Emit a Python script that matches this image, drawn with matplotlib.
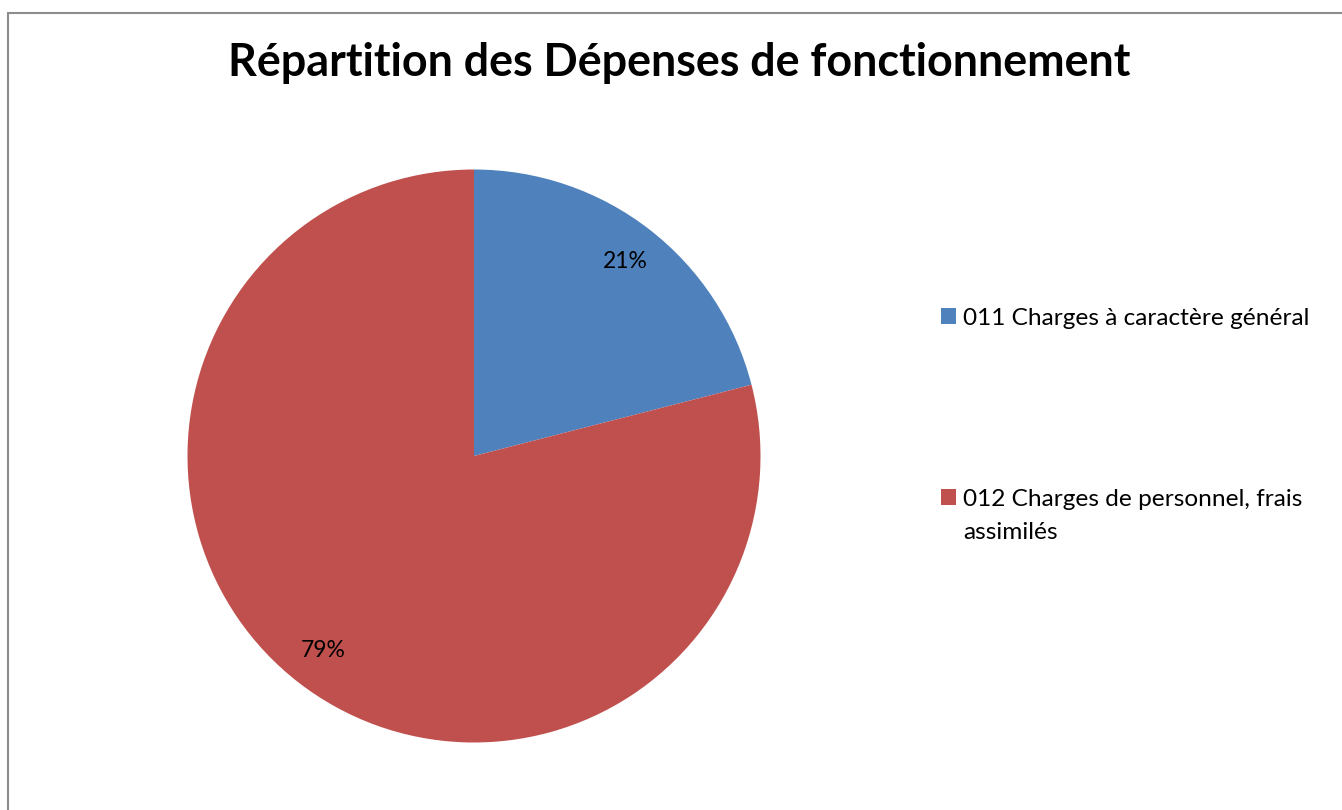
import matplotlib
matplotlib.use("Agg")
import matplotlib.pyplot as plt
from matplotlib.patches import Patch, Rectangle

title = "Répartition des Dépenses de fonctionnement"
categories = ["011 Charges à caractère général", "012 Charges de personnel, frais", ]
category2_cont = "assimilés"
values = [21, 79]
colors = ["#4F81BD", "#C0504D"]

W, H = 1342, 810
fig = plt.figure(figsize=(W / 100, H / 100), dpi=100)
plt.rcParams['font.family'] = ['Lato', 'DejaVu Sans']

# chart border (only top/left visible in reference)
fig.patches.append(Rectangle((7.5 / W, -0.1), 1.2, 1.1 - 12.5 / H, transform=fig.transFigure,
                             fill=False, edgecolor="#8c8c8c", linewidth=1.5))

cx, cy, r = 474, 456, 286.5
ax = fig.add_axes([(cx - r) / W, (H - cy - r) / H, 2 * r / W, 2 * r / H])
wedges, texts, autotexts = ax.pie(values, colors=colors, startangle=90, counterclock=False,
                                  autopct=lambda p: f"{p:.0f}%", pctdistance=0.86,
                                  wedgeprops=dict(linewidth=0),
                                  textprops=dict(fontsize=16.5, color="black"))
ax.set_xlim(-1, 1)
ax.set_ylim(-1, 1)
ax.set_aspect("equal")
ax.axis("off")

fig.text(679 / W, 1 - 63 / H, title, ha="center", va="center", fontsize=32.3, fontweight="bold")

handles = [Patch(facecolor=c, edgecolor="none") for c in colors]
leg = fig.legend(handles, categories, loc="upper left", bbox_to_anchor=(931 / W, 1 - 298 / H),
                 frameon=False, fontsize=17.6, handlelength=0.62, handleheight=0.62,
                 handletextpad=0.3, labelspacing=6.55, borderaxespad=0)

fig.canvas.draw()
t2 = leg.get_texts()[1]
bb = t2.get_window_extent()
fig.text(bb.x0 / W, (bb.y0 - 33) / H, category2_cont, ha="left", va="bottom",
         fontsize=17.6, transform=fig.transFigure)

fig.savefig("out.png", dpi=100)
